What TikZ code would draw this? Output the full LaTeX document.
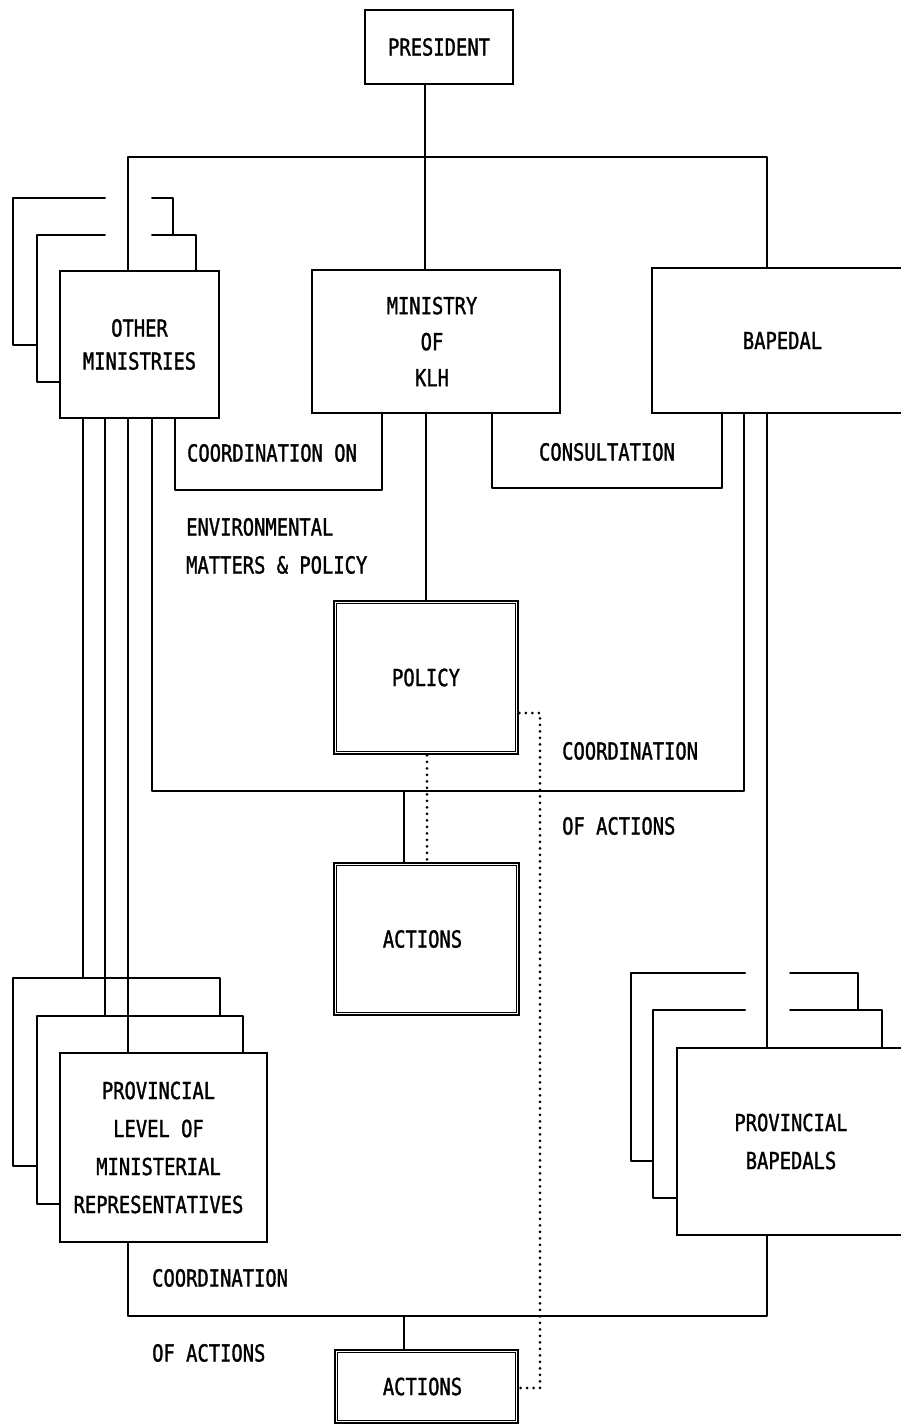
\documentclass[tikz,border=0pt]{standalone}
\usepackage{fontspec}
\newfontfamily\diafont[FakeStretch=0.8,FakeBold=1.3]{DejaVu Sans Mono}
\newcommand\diatxt{\diafont\fontsize{23.5}{34}\selectfont}
\usetikzlibrary{calc}
\tikzset{
  ln/.style={line width=2pt, line cap=round, line join=round},
  thinln/.style={line width=1.1pt},
  dots/.style={line width=3pt, line cap=round, dash pattern=on 0pt off 6.5pt},
  box/.style={draw, rectangle, line width=2pt, inner sep=0pt, align=center, font=\diatxt, fill=white},
  dbox/.style={box, line width=2.6pt},
  lbl/.style={inner sep=0pt, font=\diatxt, text height=17pt, text depth=0pt}
}
\begin{document}
\begin{tikzpicture}[x=1pt,y=-1pt]
\useasboundingbox (0,0) rectangle (900,1426);

% x and y levels of the connectors
\coordinate (xa) at (83,0);
\coordinate (xb) at (105,0);
\coordinate (xc) at (128,0);
\coordinate (xd) at (152,0);
\coordinate (xp) at (425,0);
\coordinate (xm) at (404,0);
\coordinate (xdot) at (427,0);
\coordinate (xe) at (744,0);
\coordinate (xf) at (767,0);
\coordinate (xg) at (540,0);
\coordinate (ytop) at (0,157);
\coordinate (ymid) at (0,791);
\coordinate (ybot) at (0,1316);
\coordinate (yd1) at (0,713);
\coordinate (yd2) at (0,1388);
\coordinate (ym3) at (0,978);
\coordinate (ym2) at (0,1016);

% back sheets of OTHER MINISTRIES
\draw[ln] (105,198) -- (13,198) -- (13,345) -- (37,345);
\draw[ln] (152,198) -- (173,198) -- (173,235);
\draw[ln] (105,235) -- (37,235) -- (37,382) -- (60,382);
\draw[ln] (152,235) -- (196,235) -- (196,271);

% back sheets of PROVINCIAL LEVEL
\draw[ln] (220,1016) -- (220,978) -- (13,978) -- (13,1166) -- (37,1166);
\draw[ln] (243,1053) -- (243,1016) -- (37,1016) -- (37,1204) -- (60,1204);

% back sheets of PROVINCIAL BAPEDALS
\draw[ln] (745,973) -- (631,973) -- (631,1161) -- (653,1161);
\draw[ln] (790,973) -- (858,973) -- (858,1010);
\draw[ln] (745,1010) -- (653,1010) -- (653,1198) -- (677,1198);
\draw[ln] (790,1010) -- (882,1010) -- (882,1048);

% main boxes
\node[box, minimum width=148pt, minimum height=74pt] (pres) at (439,47) {PRESIDENT};
\node[box, minimum width=159pt, minimum height=147pt, font=\diafont\fontsize{23.5}{33}\selectfont] (oth) at (139.5,344.5) {OTHER\\MINISTRIES};
\node[box, minimum width=248pt, minimum height=143pt, font=\diafont\fontsize{23.5}{36}\selectfont] (klh) at (436,341.5) {\hspace*{-8pt}MINISTRY\\\hspace*{-8pt}OF\\\hspace*{-8pt}KLH};
\node[box, minimum width=253pt, minimum height=145pt] (bap) at (778.5,340.5) {\hspace*{8pt}BAPEDAL};

\node[dbox, minimum width=184pt, minimum height=153pt] (policy) at (426,677.5) {POLICY};
\draw[thinln] ($(policy.south west)+(3.5,-3.5)$) rectangle ($(policy.north east)+(-3.5,3.5)$);
\node[dbox, minimum width=185pt, minimum height=152pt] (act1) at (426.5,939) {\hspace*{-8pt}ACTIONS};
\draw[thinln] ($(act1.south west)+(3.5,-3.5)$) rectangle ($(act1.north east)+(-3.5,3.5)$);
\node[dbox, minimum width=183pt, minimum height=73pt] (act2) at (426.5,1386.5) {\hspace*{-8pt}ACTIONS};
\draw[thinln] ($(act2.south west)+(3.5,-3.5)$) rectangle ($(act2.north east)+(-3.5,3.5)$);

\node[box, minimum width=207pt, minimum height=189pt, font=\diafont\fontsize{23.5}{38}\selectfont] (pmin) at (163.5,1147.5) {\hspace*{-10pt}PROVINCIAL\\\hspace*{-10pt}LEVEL OF\\\hspace*{-10pt}MINISTERIAL\\\hspace*{-10pt}REPRESENTATIVES};
\node[box, minimum width=228pt, minimum height=187pt, font=\diafont\fontsize{23.5}{38}\selectfont] (pbap) at (791,1141.5) {PROVINCIAL\\BAPEDALS};

% open boxes with labels
\draw[ln] (175,418) -- (175,490) -- (382,490) -- (382,413);
\node[lbl] (coordon) at (272,453) {COORDINATION ON};
\draw[ln] (492,413) -- (492,488) -- (722,488) -- (722,413);
\node[lbl] (consult) at (607,452) {CONSULTATION};

\node[lbl, anchor=west] (env1) at (186,527) {ENVIRONMENTAL};
\node[lbl, anchor=west] (env2) at (186,565) {MATTERS \& POLICY};
\node[lbl, anchor=west] (coa1) at (562,751) {COORDINATION};
\node[lbl, anchor=west] (coa2) at (562,826) {OF ACTIONS};
\node[lbl, anchor=west] (cob1) at (152,1278) {COORDINATION};
\node[lbl, anchor=west] (cob2) at (152,1353) {OF ACTIONS};

% connectors
\draw[ln] (xp |- pres.south) -- (xp |- klh.north);
\draw[ln] (xc |- oth.north) -- (xc |- ytop) -- (xf |- ytop) -- (xf |- bap.north);
\draw[ln] (policy.north |- klh.south) -- (policy.north);
\draw[ln] (xd |- oth.south) -- (xd |- ymid) -- (xe |- ymid) -- (xe |- bap.south);
\draw[ln] (xm |- ymid) -- (xm |- act1.north);
\draw[ln] (xa |- oth.south) -- (xa |- ym3);
\draw[ln] (xb |- oth.south) -- (xb |- ym2);
\draw[ln] (xc |- oth.south) -- (xc |- pmin.north);
\draw[ln] (xf |- bap.south) -- (xf |- pbap.north);
\draw[ln] (xc |- pmin.south) -- (xc |- ybot) -- (xf |- ybot) -- (xf |- pbap.south);
\draw[ln] (xm |- ybot) -- (xm |- act2.north);

% dotted links
\draw[dots] (xdot |- policy.south) -- (xdot |- act1.north);
\draw[dots] (policy.east |- yd1) -- (xg |- yd1) -- (xg |- yd2) -- (act2.east |- yd2);
\end{tikzpicture}
\end{document}
